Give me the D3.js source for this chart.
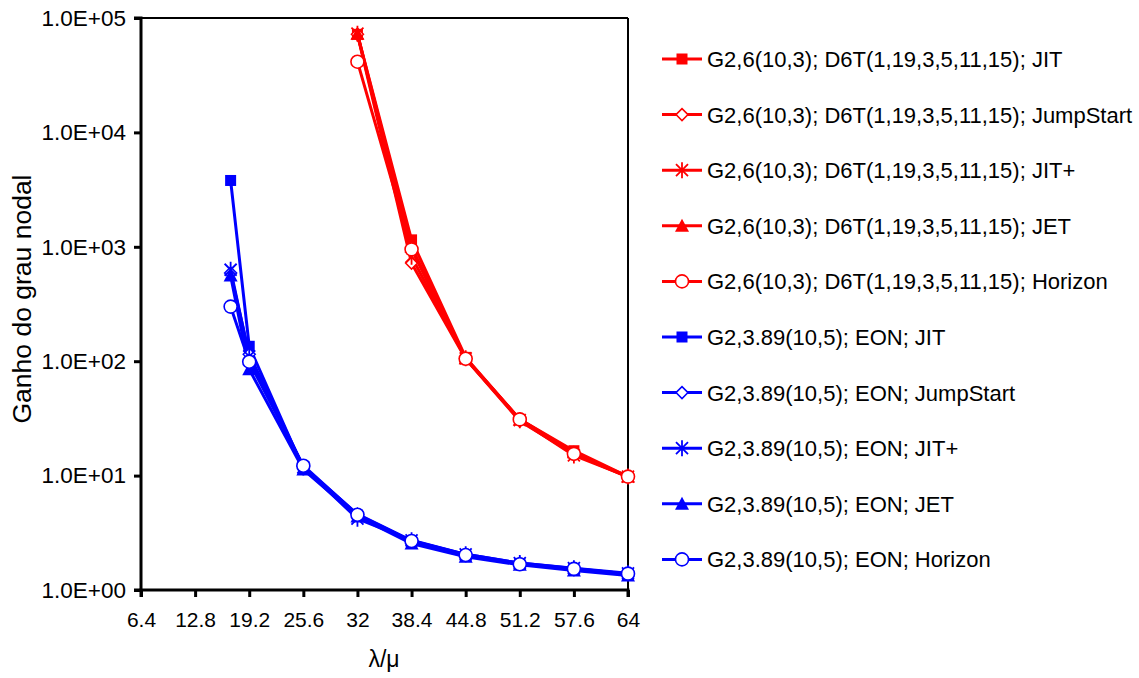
<!DOCTYPE html>
<html><head><meta charset="utf-8">
<script src="https://cdn.jsdelivr.net/npm/d3@7"></script>
<style>body{margin:0;background:#fff}svg{display:block}text{font-family:"Liberation Sans",Arial,sans-serif;fill:#000}</style>
</head><body>
<svg id="c" width="1139" height="678"></svg>
<script>
const xTicks = [6.4, 12.8, 19.2, 25.6, 32, 38.4, 44.8, 51.2, 57.6, 64];
const yTicks = [1, 10, 100, 1000, 10000, 100000];
const yTickLabels = ["1.0E+00","1.0E+01","1.0E+02","1.0E+03","1.0E+04","1.0E+05"];

const xRed = [32, 38.4, 44.8, 51.2, 57.6, 64];
const redJIT       = [72000, 1150, 108, 31, 16.5, 9.8];
const redJumpStart = [72000, 720, 105, 30, 15.5, 9.7];
const redJITplus   = [73000, 820, 106, 30.5, 15, 9.8];
const redJET       = [73000, 1000, 106, 31, 16, 9.8];
const redHorizon   = [41500, 950, 105, 31, 15.5, 9.8];

const xBlue = [17, 19.2, 25.6, 32, 38.4, 44.8, 51.2, 57.6, 64];
const blueJIT       = [3800, 135, 11.5, 4.5, 2.6, 2.0, 1.7, 1.52, 1.37];
const blueJumpStart = [590, 115, 12, 4.6, 2.7, 2.05, 1.72, 1.54, 1.38];
const blueJITplus   = [630, 110, 11.8, 4.2, 2.72, 2.05, 1.72, 1.55, 1.4];
const blueJET       = [560, 85, 11.3, 4.4, 2.55, 1.95, 1.66, 1.48, 1.34];
const blueHorizon   = [300, 99, 12.2, 4.55, 2.68, 2.02, 1.68, 1.53, 1.39];

const seriesNames = [
 "G2,6(10,3); D6T(1,19,3,5,11,15); JIT",
 "G2,6(10,3); D6T(1,19,3,5,11,15); JumpStart",
 "G2,6(10,3); D6T(1,19,3,5,11,15); JIT+",
 "G2,6(10,3); D6T(1,19,3,5,11,15); JET",
 "G2,6(10,3); D6T(1,19,3,5,11,15); Horizon",
 "G2,3.89(10,5); EON; JIT",
 "G2,3.89(10,5); EON; JumpStart",
 "G2,3.89(10,5); EON; JIT+",
 "G2,3.89(10,5); EON; JET",
 "G2,3.89(10,5); EON; Horizon"
];
const markerTypes = ["square","diamond","star","triangle","circle","square","diamond","star","triangle","circle"];
const colors = ["#ff0000","#ff0000","#ff0000","#ff0000","#ff0000","#0000ff","#0000ff","#0000ff","#0000ff","#0000ff"];
const seriesX = [xRed,xRed,xRed,xRed,xRed,xBlue,xBlue,xBlue,xBlue,xBlue];
const seriesY = [redJIT,redJumpStart,redJITplus,redJET,redHorizon,blueJIT,blueJumpStart,blueJITplus,blueJET,blueHorizon];

const svg = d3.select("#c");
const L = 141, R = 628, T = 18, B = 590;
const x = d3.scaleLinear().domain([6.4, 64]).range([L, R]);
const y = d3.scaleLog().domain([1, 100000]).range([B, T]);

// frame
svg.append("line").attr("x1",L).attr("x2",R).attr("y1",T).attr("y2",T).attr("stroke","#000").attr("stroke-width",2);
svg.append("line").attr("x1",R).attr("x2",R).attr("y1",T).attr("y2",B).attr("stroke","#000").attr("stroke-width",2);

const gx = svg.append("g").attr("transform",`translate(0,${B})`)
  .call(d3.axisBottom(x).tickValues(xTicks).tickFormat(d=>String(d)).tickSize(7).tickPadding(15));
const gy = svg.append("g").attr("transform",`translate(${L},0)`)
  .call(d3.axisLeft(y).tickValues(yTicks).tickFormat((d,i)=>yTickLabels[i]).tickSize(7).tickPadding(8));
[gx,gy].forEach(g=>{
  g.select(".domain").attr("stroke","#000").attr("stroke-width",3);
  g.selectAll(".tick line").attr("stroke","#000").attr("stroke-width",3);
  g.selectAll(".tick text").attr("font-family","Liberation Sans, Arial, sans-serif").attr("fill","#000");
});
gx.selectAll(".tick text").attr("font-size",21);
gy.selectAll(".tick text").attr("font-size",22.5);
gy.select(".domain").attr("d",`M-7,${T}H0V${B}H-7`);
gx.select(".domain").attr("d",`M${L},7V0H${R}V7`);

svg.append("text").attr("transform",`translate(31,299) rotate(-90)`)
  .attr("text-anchor","middle").attr("font-size",26.5).text("Ganho do grau nodal");
svg.append("text").attr("x",384).attr("y",667).attr("text-anchor","middle").attr("font-size",23).text("λ/μ");

function drawMarker(g, type, color, cx, cy) {
  if (type==="square") {
    g.append("rect").attr("x",cx-5.5).attr("y",cy-5.5).attr("width",11).attr("height",11).attr("fill",color);
  } else if (type==="diamond") {
    g.append("path").attr("d",`M${cx},${cy-6}L${cx+6},${cy}L${cx},${cy+6}L${cx-6},${cy}Z`).attr("fill","#fff").attr("stroke",color).attr("stroke-width",1.5);
  } else if (type==="star") {
    g.append("path").attr("d",`M${cx-6},${cy-6}L${cx+6},${cy+6}M${cx-6},${cy+6}L${cx+6},${cy-6}M${cx},${cy-8}L${cx},${cy+8}`).attr("stroke",color).attr("stroke-width",1.8).attr("fill","none");
  } else if (type==="triangle") {
    g.append("path").attr("d",`M${cx},${cy-7}L${cx+7},${cy+6}L${cx-7},${cy+6}Z`).attr("fill",color);
  } else if (type==="circle") {
    g.append("circle").attr("cx",cx).attr("cy",cy).attr("r",6.5).attr("fill","#fff").attr("stroke",color).attr("stroke-width",1.6);
  }
}

const line = d3.line().x(d=>x(d[0])).y(d=>y(d[1]));
const plot = svg.append("g");
seriesY.forEach((vals,i)=>{
  const pts = vals.map((v,j)=>[seriesX[i][j], v]);
  plot.append("path").datum(pts).attr("d",line).attr("fill","none").attr("stroke",colors[i]).attr("stroke-width",3);
});
seriesY.forEach((vals,i)=>{
  vals.forEach((v,j)=>drawMarker(plot, markerTypes[i], colors[i], x(seriesX[i][j]), y(v)));
});

// legend
const leg = svg.append("g");
seriesNames.forEach((name,i)=>{
  const ly = 59 + i*55.6;
  leg.append("line").attr("x1",662).attr("x2",702).attr("y1",ly).attr("y2",ly).attr("stroke",colors[i]).attr("stroke-width",3);
  drawMarker(leg, markerTypes[i], colors[i], 682, ly);
  leg.append("text").attr("x",707).attr("y",ly+8).attr("font-size",22).text(name);
});
</script>
</body></html>
